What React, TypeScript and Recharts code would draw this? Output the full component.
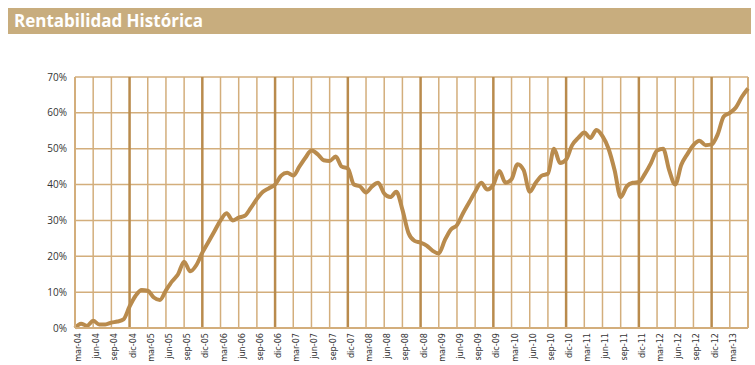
import { CartesianGrid, Line, LineChart, ReferenceLine, XAxis, YAxis } from "recharts";

// rentabilidad acumulada mensual (%), desde mar-04
const rentabilidad = [
  0, 1.2, 0.6, 2.0, 1.0, 1.0, 1.5, 1.8, 2.4, 6.0, 9.0, 10.6,
  10.4, 8.5, 7.8, 10.5, 13.0, 15.0, 18.5, 15.8, 17.5, 21.0, 24.0, 27.0,
  30.0, 32.0, 30.0, 30.8, 31.3, 33.5, 36.0, 38.0, 39.0, 40.0, 42.5, 43.3,
  42.5, 45.0, 47.5, 49.5, 48.5, 46.8, 46.6, 47.8, 45.0, 44.5, 40.0, 39.5,
  37.8, 39.5, 40.5, 37.5, 36.5, 38.0, 33.0, 26.5, 24.3, 23.8, 23.0, 21.5,
  20.8, 24.5, 27.5, 28.7, 32.0, 35.0, 38.0, 40.5, 38.6, 40.0, 43.8, 40.5,
  41.5, 45.7, 44.0, 38.0, 40.5, 42.5, 43.0, 50.0, 46.0, 47.0, 51.0, 53.0,
  54.5, 53.0, 55.2, 53.5, 50.0, 44.0, 36.5, 39.5, 40.5, 40.7, 43.0, 46.0,
  49.5, 50.0, 44.0, 40.0, 45.5, 48.5, 51.0, 52.2, 51.0, 51.2, 54.0, 59.0,
  60.0, 61.5, 64.5, 66.8,
];

const trimestres = [
  "mar-04", "jun-04", "sep-04", "dic-04",
  "mar-05", "jun-05", "sep-05", "dic-05",
  "mar-06", "jun-06", "sep-06", "dic-06",
  "mar-07", "jun-07", "sep-07", "dic-07",
  "mar-08", "jun-08", "sep-08", "dic-08",
  "mar-09", "jun-09", "sep-09", "dic-09",
  "mar-10", "jun-10", "sep-10", "dic-10",
  "mar-11", "jun-11", "sep-11", "dic-11",
  "mar-12", "jun-12", "sep-12", "dic-12",
  "mar-13",
];

const yTicks = [0, 10, 20, 30, 40, 50, 60, 70];

const data = rentabilidad.map((v, i) => ({ mes: i, valor: v }));
const quarterTicks = trimestres.map((_, q) => q * 3);

const GOLD = "#b98b4d";
const GRID = "#d3ae7c";

function QuarterTick({ x, y, payload }: any) {
  const label = trimestres[payload.value / 3] ?? "";
  return (
    <text
      x={x}
      y={y}
      dx={3}
      dy={6}
      transform={`rotate(-90 ${x} ${y})`}
      textAnchor="end"
      fontSize={9}
      fill="#333"
      fontFamily="'Liberation Sans Narrow', 'DejaVu Sans Condensed', Arial, sans-serif"
    >
      {label}
    </text>
  );
}

export default function App() {
  return (
    <div style={{ position: "absolute", left: 0, top: 0, width: 755, height: 365, background: "#fff" }}>
      <div
        style={{
          position: "absolute",
          left: 8,
          top: 8,
          width: 743,
          height: 26,
          background: "#c8ad7e",
          color: "#fff",
          fontFamily: "'Open Sans', sans-serif",
          fontWeight: 700,
          fontSize: 17,
          lineHeight: "26px",
          paddingLeft: 6,
          boxSizing: "border-box",
        }}
      >
        Rentabilidad Histórica
      </div>
      <div style={{ position: "absolute", left: 0, top: 0 }}>
        <LineChart width={755} height={365} data={data} margin={{ top: 77, right: 7, bottom: 0, left: 35 }}>
          <CartesianGrid vertical={false} stroke={GRID} strokeWidth={1.5} />
          {quarterTicks.map((t) => {
            const dic = trimestres[t / 3].startsWith("dic");
            return (
              <ReferenceLine
                key={t}
                x={t}
                stroke={dic ? GOLD : GRID}
                strokeWidth={dic ? 2.5 : 1.5}
              />
            );
          })}
          <ReferenceLine x={111} stroke={GRID} strokeWidth={2} />
          <XAxis
            dataKey="mes"
            type="number"
            domain={[0, 111]}
            ticks={quarterTicks}
            interval={0}
            tick={<QuarterTick />}
            tickLine={false}
            axisLine={{ stroke: GRID, strokeWidth: 2 }}
            height={37}
          />
          <YAxis
            domain={[0, 70]}
            ticks={yTicks}
            tickFormatter={(v: number) => `${v}%`}
            tickLine={false}
            axisLine={{ stroke: GRID, strokeWidth: 2 }}
            width={40}
            tick={{ fontSize: 10, fill: "#333", fontFamily: "'Open Sans', sans-serif" }}
          />
          <Line
            type="monotone"
            dataKey="valor"
            stroke={GOLD}
            strokeWidth={4}
            dot={false}
            isAnimationActive={false}
          />
        </LineChart>
      </div>
    </div>
  );
}
